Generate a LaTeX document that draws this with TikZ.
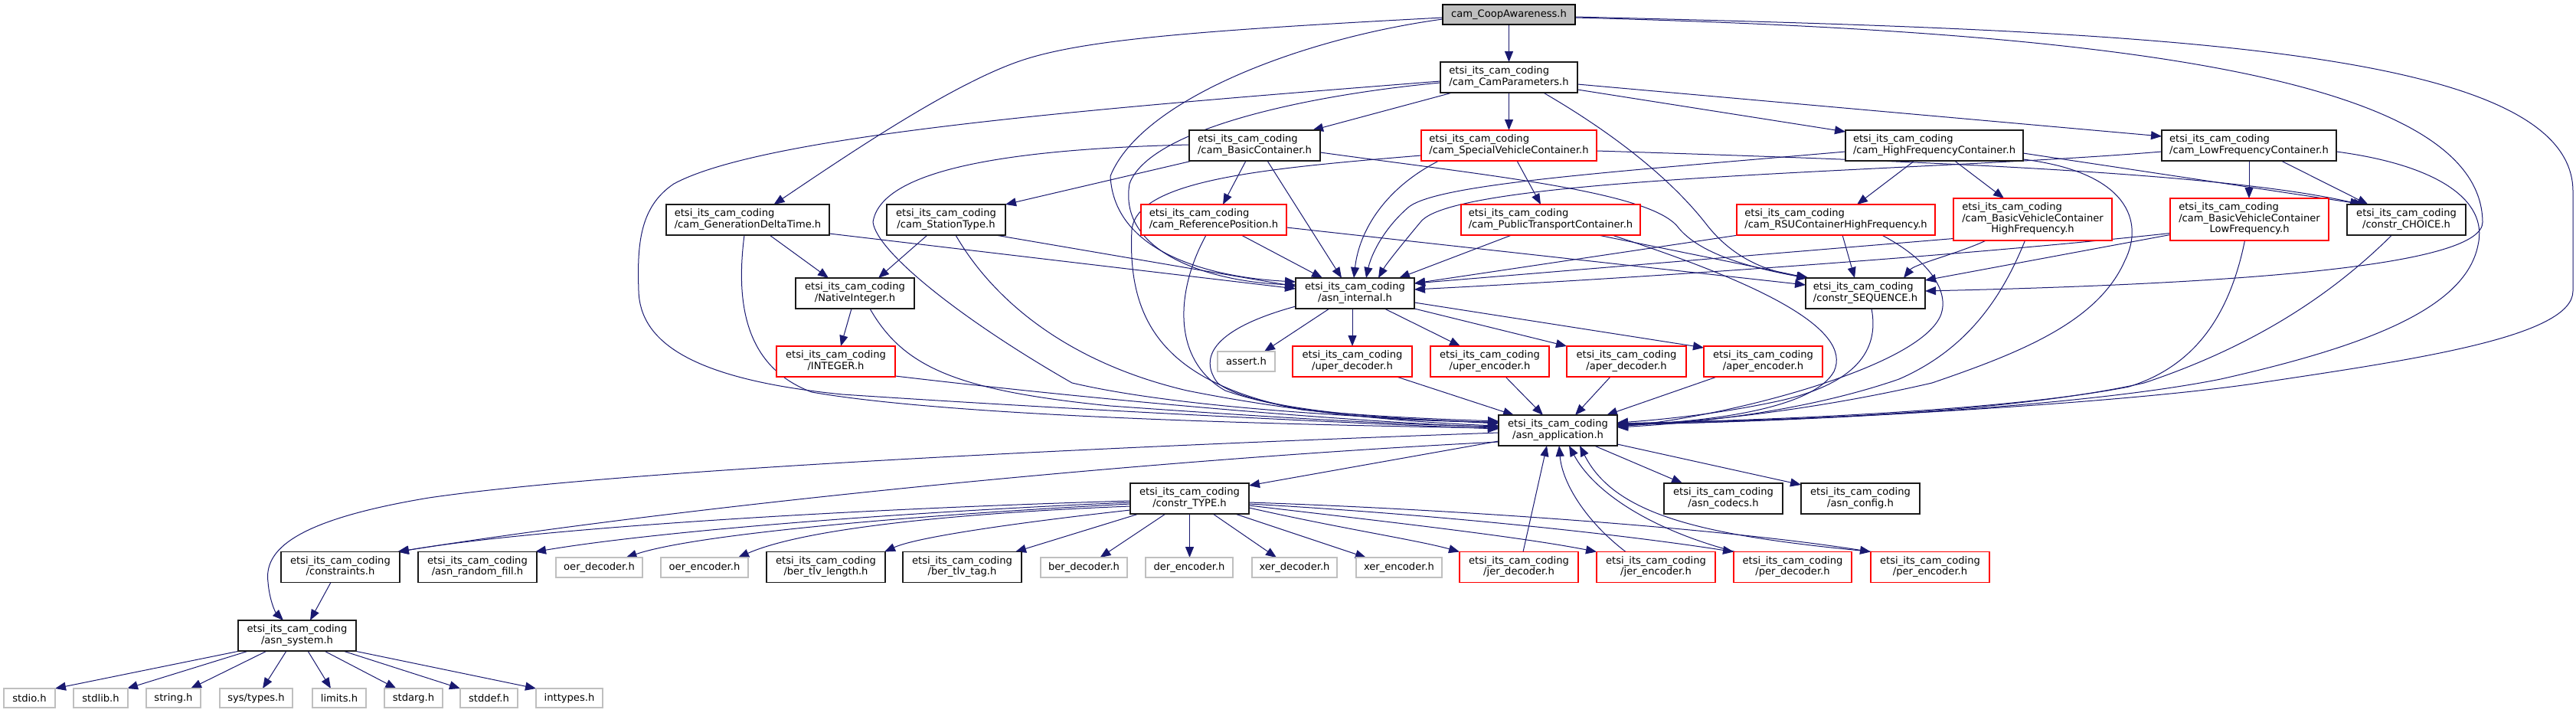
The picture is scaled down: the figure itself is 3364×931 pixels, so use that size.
\documentclass[tikz,border=0pt]{standalone}
\usepackage{fontspec}
\setmainfont{DejaVu Sans}
\usetikzlibrary{arrows.meta}
\pgfdeclarelayer{bg}
\pgfsetlayers{bg,main}
\definecolor{edgec}{HTML}{191970}
\definecolor{boxc}{HTML}{1A1A1A}
\definecolor{greyc}{HTML}{BFBFBF}
\definecolor{redc}{HTML}{FF0000}
\newcommand\ec{etsi\_its\_cam\_coding}
\newcommand\twol[1]{\begin{tabular}{@{}l@{}}\ec\\\multicolumn{1}{@{}c@{}}{#1}\end{tabular}}
\newcommand\thrl[2]{\begin{tabular}{@{}l@{}}\ec\\#1\\\multicolumn{1}{@{}c@{}}{#2}\end{tabular}}
\newcommand\mknode[7]{\node[#2, minimum width=#5pt, minimum height=#6pt] (#1) at (#3,#4) {#7};}
\tikzset{
 nb/.style={rectangle, inner sep=0pt, outer sep=0pt, fill=white, line width=1.1pt, font=\fontsize{13.1pt}{14.5pt}\selectfont, text=black},
 fb/.style={nb, draw=boxc},
 rb/.style={nb, draw=redc},
 gb/.style={nb, draw=greyc},
 tb/.style={nb, draw=black, fill=greyc},
 edge/.style={draw=edgec, line width=1pt, -{Triangle[length=14pt,width=11pt]}},
}
\begin{document}
\begin{tikzpicture}[x=1pt, y=-1pt]
\useasboundingbox (0,0) rectangle (3364,931);
% ---------- nodes ----------
\mknode{root}{tb}{1970.5}{19}{173}{26}{cam\_CoopAwareness.h}
\mknode{camp}{fb}{1970.5}{101}{179}{40}{\twol{/cam\_CamParameters.h}}
\mknode{basc}{fb}{1638.5}{190}{171}{40}{\twol{/cam\_BasicContainer.h}}
\mknode{svc}{rb}{1970.5}{190}{229}{40}{\twol{/cam\_SpecialVehicleContainer.h}}
\mknode{hfc}{fb}{2526}{190}{232}{40}{\twol{/cam\_HighFrequencyContainer.h}}
\mknode{lfc}{fb}{2937}{190}{228}{40}{\twol{/cam\_LowFrequencyContainer.h}}
\mknode{gdt}{fb}{976.5}{287}{213}{40}{\twol{/cam\_GenerationDeltaTime.h}}
\mknode{stt}{fb}{1235.5}{287}{155}{40}{\twol{/cam\_StationType.h}}
\mknode{refp}{rb}{1585}{287}{190}{40}{\twol{/cam\_ReferencePosition.h}}
\mknode{ptc}{rb}{2025}{287}{234}{40}{\twol{/cam\_PublicTransportContainer.h}}
\mknode{rsu}{rb}{2397.5}{287}{259}{40}{\twol{/cam\_RSUContainerHighFrequency.h}}
\mknode{bvchf}{rb}{2654.5}{286.5}{207}{55}{\thrl{/cam\_BasicVehicleContainer}{HighFrequency.h}}
\mknode{bvclf}{rb}{2937.5}{286.5}{207}{55}{\thrl{/cam\_BasicVehicleContainer}{LowFrequency.h}}
\mknode{choice}{fb}{3142.5}{287}{155}{40}{\twol{/constr\_CHOICE.h}}
\mknode{natint}{fb}{1116.5}{383}{155}{40}{\twol{/NativeInteger.h}}
\mknode{asnint}{fb}{1769.5}{383}{155}{40}{\twol{/asn\_internal.h}}
\mknode{seq}{fb}{2436}{383}{156}{40}{\twol{/constr\_SEQUENCE.h}}
\mknode{integer}{rb}{1091.5}{472}{155}{40}{\twol{/INTEGER.h}}
\mknode{assert}{gb}{1627.5}{472}{75}{26}{assert.h}
\mknode{uperd}{rb}{1766}{472}{156}{40}{\twol{/uper\_decoder.h}}
\mknode{upere}{rb}{1945.5}{472}{155}{40}{\twol{/uper\_encoder.h}}
\mknode{aperd}{rb}{2124}{472}{156}{40}{\twol{/aper\_decoder.h}}
\mknode{apere}{rb}{2302.5}{472}{155}{40}{\twol{/aper\_encoder.h}}
\mknode{asnapp}{fb}{2034.5}{562}{155}{40}{\twol{/asn\_application.h}}
\mknode{ctype}{fb}{1553.5}{651}{155}{40}{\twol{/constr\_TYPE.h}}
\mknode{codecs}{fb}{2250.5}{651}{155}{40}{\twol{/asn\_codecs.h}}
\mknode{config}{fb}{2429.5}{651}{155}{40}{\twol{/asn\_config.h}}
\mknode{constraints}{fb}{444.5}{740.5}{155}{40}{\twol{/constraints.h}}
\mknode{randfill}{fb}{623.5}{740.5}{155}{40}{\twol{/asn\_random\_fill.h}}
\mknode{oerd}{gb}{782.5}{741}{113}{26}{oer\_decoder.h}
\mknode{oere}{gb}{920}{741}{114}{26}{oer\_encoder.h}
\mknode{bertl}{fb}{1078.5}{740.5}{155}{40}{\twol{/ber\_tlv\_length.h}}
\mknode{bertag}{fb}{1256.5}{740.5}{155}{40}{\twol{/ber\_tlv\_tag.h}}
\mknode{berd}{gb}{1415.5}{741}{113}{26}{ber\_decoder.h}
\mknode{dere}{gb}{1553}{741}{114}{26}{der\_encoder.h}
\mknode{xerd}{gb}{1690.5}{741}{111}{26}{xer\_decoder.h}
\mknode{xere}{gb}{1827}{741}{112}{26}{xer\_encoder.h}
\mknode{jerd}{rb}{1983.5}{740.5}{155}{40}{\twol{/jer\_decoder.h}}
\mknode{jere}{rb}{2162.5}{740.5}{155}{40}{\twol{/jer\_encoder.h}}
\mknode{perd}{rb}{2341}{740.5}{154}{40}{\twol{/per\_decoder.h}}
\mknode{pere}{rb}{2520.5}{740.5}{155}{40}{\twol{/per\_encoder.h}}
\mknode{asnsys}{fb}{388}{830}{154}{40}{\twol{/asn\_system.h}}
\mknode{stdio}{gb}{38.5}{911.5}{67}{25}{stdio.h}
\mknode{stdlib}{gb}{131.5}{911.5}{71}{25}{stdlib.h}
\mknode{string}{gb}{226.5}{911.5}{71}{25}{string.h}
\mknode{systypes}{gb}{334.5}{911.5}{95}{25}{sys/types.h}
\mknode{limits}{gb}{443}{911.5}{70}{25}{limits.h}
\mknode{stdarg}{gb}{540}{911.5}{76}{25}{stdarg.h}
\mknode{stddef}{gb}{638.5}{911.5}{75}{25}{stddef.h}
\mknode{inttypes}{gb}{743.5}{911.5}{87}{25}{inttypes.h}
% ---------- edges ----------
\begin{pgfonlayer}{bg}
% root
\draw[edge] (root.south) -- (camp.north);
\draw[edge] ([yshift=-4]root.west) .. controls (1560,40) and (1420,52) .. (1340,77) .. controls (1250,105) and (1110,200) .. ([xshift=34]gdt.north);
\draw[edge] ([yshift=-6]root.west) .. controls (1700,50) and (1490,130) .. (1450,230) .. controls (1455,330) and (1580,362) .. ([yshift=15]asnint.west);
\draw[edge] ([yshift=-3]root.east) .. controls (2800,40) and (3360,60) .. (3360,250) -- (3360,380) .. controls (3360,440) and (3150,470) .. (2950,500) .. controls (2750,530) and (2300,552) .. ([yshift=8]asnapp.east);
\draw[edge] ([yshift=-4]root.east) .. controls (2700,40) and (3240,90) .. (3242,290) .. controls (3242,345) and (2950,370) .. ([yshift=3]seq.east);
% CamParameters
\draw[edge] ([xshift=-74]camp.south) -- ([xshift=75.5]basc.north);
\draw[edge] (camp.south) -- (svc.north);
\draw[edge] ([yshift=-16]camp.east) -- ([yshift=-2]hfc.north west);
\draw[edge] ([yshift=-9]camp.east) -- ([yshift=12]lfc.west);
\draw[edge] ([yshift=-7]camp.west) .. controls (1700,125) and (1500,170) .. (1475,240) .. controls (1460,330) and (1580,368) .. ([yshift=11]asnint.west);
\draw[edge] ([yshift=-5]camp.west) .. controls (1450,140) and (1000,175) .. (880,240) .. controls (835,270) and (832,320) .. (834,380) .. controls (836,445) and (900,495) .. (1100,515) .. controls (1400,535) and (1750,552) .. ([yshift=2]asnapp.west);
\draw[edge] ([xshift=45]camp.south) .. controls (2100,170) and (2180,230) .. (2230,295) .. controls (2270,345) and (2320,356) .. ([xshift=4]seq.north west);
% BasicContainer
\draw[edge] ([xshift=4]basc.south west) -- (stt.north east);
\draw[edge] ([xshift=-11.5]basc.south) -- ([xshift=12]refp.north);
\draw[edge] ([xshift=16.5]basc.south) -- ([xshift=-17.5]asnint.north);
\draw[edge] ([yshift=-9]basc.east) .. controls (1950,230) and (2150,250) .. (2190,295) .. controls (2220,335) and (2300,352) .. ([xshift=2]seq.north west);
\draw[edge] ([yshift=1]basc.west) .. controls (1300,195) and (1150,225) .. (1140,290) .. controls (1145,330) and (1260,420) .. (1400,500) .. controls (1550,535) and (1800,545) .. ([yshift=9]asnapp.west);
% SpecialVehicleContainer
\draw[edge] ([xshift=10.5]svc.south) -- ([xshift=-13]ptc.north);
\draw[edge] ([xshift=-91.5]svc.south) .. controls (1810,245) and (1775,300) .. ([xshift=-1.5]asnint.north);
\draw[edge] ([yshift=-7]svc.east) .. controls (2500,210) and (2900,225) .. ([xshift=-59.5]choice.north);
\draw[edge] ([yshift=-13]svc.west) .. controls (1650,220) and (1485,235) .. (1478,300) .. controls (1472,420) and (1520,500) .. (1700,535) .. controls (1800,545) and (1900,548) .. ([yshift=12]asnapp.west);
% GenerationDeltaTime
\draw[edge] ([xshift=28.5]gdt.south) -- ([xshift=-34.5]natint.north);
\draw[edge] ([yshift=-18]gdt.east) -- ([yshift=6]asnint.west);
\draw[edge] ([xshift=-4.5]gdt.south) .. controls (960,400) and (975,480) .. (1060,512) .. controls (1250,545) and (1700,555) .. ([yshift=3]asnapp.west);
% StationType
\draw[edge] ([xshift=-24.5]stt.south) -- ([xshift=30.5]natint.north);
\draw[edge] ([xshift=64.5]stt.south) -- ([yshift=9]asnint.west);
\draw[edge] ([xshift=12.5]stt.south) .. controls (1290,380) and (1380,470) .. (1550,510) .. controls (1700,540) and (1850,552) .. ([yshift=6]asnapp.west);
% NativeInteger, INTEGER
\draw[edge] ([xshift=-4.5]natint.south) -- ([xshift=6.5]integer.north);
\draw[edge] ([xshift=19.5]natint.south) .. controls (1180,480) and (1250,510) .. (1450,530) .. controls (1700,548) and (1850,555) .. ([yshift=5]asnapp.west);
\draw[edge] ([yshift=-19]integer.east) .. controls (1500,530) and (1800,552) .. ([yshift=4]asnapp.west);
% ReferencePosition
\draw[edge] ([xshift=36]refp.south) -- ([xshift=-42.5]asnint.north);
\draw[edge] ([yshift=-10]refp.east) -- ([yshift=11]seq.west);
\draw[edge] ([xshift=-10]refp.south) .. controls (1535,380) and (1530,470) .. (1600,510) .. controls (1700,545) and (1850,550) .. ([yshift=11]asnapp.west);
% PublicTransportContainer
\draw[edge] ([xshift=-51]ptc.south) -- ([xshift=57.5]asnint.north);
\draw[edge] ([xshift=62]ptc.south) .. controls (2200,330) and (2300,350) .. ([xshift=3]seq.north west);
\draw[edge] ([xshift=80]ptc.south) .. controls (2300,370) and (2420,430) .. (2395,485) .. controls (2370,530) and (2250,550) .. ([yshift=7]asnapp.east);
% HighFrequencyContainer
\draw[edge] ([xshift=26.5]hfc.south) -- ([xshift=-37.5]bvchf.north);
\draw[edge] ([xshift=-26]hfc.south) -- ([xshift=27.5]rsu.north);
\draw[edge] ([yshift=-8]hfc.west) .. controls (2100,225) and (1880,240) .. (1840,270) .. controls (1805,300) and (1790,335) .. ([xshift=14.5]asnint.north);
\draw[edge] ([yshift=-10]hfc.east) -- ([xshift=-55]choice.north);
\draw[edge] ([yshift=-18]hfc.east) .. controls (2780,225) and (2800,290) .. (2775,340) .. controls (2740,420) and (2640,460) .. (2523,500) .. controls (2350,540) and (2200,552) .. ([yshift=6]asnapp.east);
% LowFrequencyContainer
\draw[edge] (lfc.south) -- (lfc.south |- bvclf.north);
\draw[edge] ([xshift=42]lfc.south) -- ([xshift=-50]choice.north);
\draw[edge] ([yshift=-8]lfc.west) .. controls (2500,225) and (1900,230) .. (1855,290) .. controls (1830,320) and (1810,345) .. ([xshift=30.5]asnint.north);
\draw[edge] ([yshift=-8]lfc.east) .. controls (3180,215) and (3250,260) .. (3236,320) .. controls (3220,400) and (3100,450) .. (2900,495) .. controls (2700,535) and (2300,552) .. ([yshift=8]asnapp.east);
% CHOICE
\draw[edge] ([xshift=-19]choice.south) .. controls (3050,380) and (2950,450) .. (2800,500) .. controls (2600,545) and (2250,550) .. ([yshift=9]asnapp.east);
% RSU
\draw[edge] ([xshift=2]rsu.south west) -- ([yshift=13]asnint.east);
\draw[edge] ([xshift=8.5]rsu.south) -- ([xshift=-14]seq.north);
\draw[edge] ([xshift=60]rsu.south) .. controls (2520,340) and (2545,380) .. (2535,410) .. controls (2510,480) and (2250,545) .. ([yshift=5]asnapp.east);
% BasicVehicleContainerHighFrequency
\draw[edge] ([yshift=-25]bvchf.west) -- ([yshift=13]asnint.east);
\draw[edge] ([xshift=-61]bvchf.south) .. controls (2560,330) and (2500,345) .. ([xshift=50]seq.north);
\draw[edge] ([xshift=-10]bvchf.south) .. controls (2610,400) and (2560,460) .. (2480,495) .. controls (2350,540) and (2200,553) .. ([yshift=4]asnapp.east);
% BasicVehicleContainerLowFrequency
\draw[edge] ([yshift=-18]bvclf.west) .. controls (2600,330) and (2200,360) .. ([yshift=5]asnint.east);
\draw[edge] ([yshift=-20]bvclf.west) -- ([yshift=17]seq.east);
\draw[edge] ([xshift=-6]bvclf.south) .. controls (2910,420) and (2860,480) .. (2780,505) .. controls (2600,540) and (2250,550) .. ([yshift=9]asnapp.east);
% constr_SEQUENCE
\draw[edge] ([xshift=8]seq.south) .. controls (2455,460) and (2420,500) .. (2330,522) .. controls (2250,540) and (2170,548) .. ([yshift=10]asnapp.east);
% asn_internal
\draw[edge] ([xshift=-3.5]asnint.south) -- (uperd.north);
\draw[edge] ([xshift=38.5]asnint.south) -- ([xshift=-38.5]upere.north);
\draw[edge] (asnint.south east) -- (aperd.north west);
\draw[edge] ([yshift=-12]asnint.east) -- ([yshift=-2]apere.north west);
\draw[edge] ([xshift=-33.5]asnint.south) -- ([xshift=23.5]assert.north);
\draw[edge] ([yshift=-17]asnint.west) .. controls (1600,425) and (1560,460) .. (1590,500) .. controls (1640,540) and (1850,548) .. ([yshift=10]asnapp.west);
% per/aper
\draw[edge] ([xshift=58]uperd.south) -- ([xshift=-57.5]asnapp.north);
\draw[edge] ([xshift=20.5]upere.south) -- ([xshift=-19.5]asnapp.north);
\draw[edge] ([xshift=-21]aperd.south) -- ([xshift=22.5]asnapp.north);
\draw[edge] ([xshift=-60.5]apere.south) -- ([xshift=63.5]asnapp.north);
% asn_application
\draw[edge] ([yshift=-3]asnapp.west) .. controls (1400,585) and (800,615) .. (560,650) .. controls (380,680) and (345,720) .. (350,760) .. controls (352,785) and (360,800) .. ([xshift=-18]asnsys.north);
\draw[edge] ([yshift=-15]asnapp.west) .. controls (1500,600) and (900,660) .. ([xshift=-3]constraints.north east);
\draw[edge] ([yshift=-14]asnapp.west) -- ([yshift=17]ctype.east);
\draw[edge] ([xshift=47.5]asnapp.south) -- ([xshift=-53.5]codecs.north);
\draw[edge] ([yshift=-18]asnapp.east) -- ([yshift=-2]config.north west);
% jer/per back to asn_application
\draw[edge] ([xshift=5.5]jerd.north) -- ([xshift=-14.5]asnapp.south);
\draw[edge] ([xshift=-39.5]jere.north) .. controls (2070,680) and (2040,630) .. ([xshift=1.5]asnapp.south);
\draw[edge] ([xshift=-75]perd.north) .. controls (2150,690) and (2080,640) .. ([xshift=14.5]asnapp.south);
\draw[edge] ([xshift=-75]pere.north) .. controls (2230,700) and (2110,675) .. ([xshift=28.5]asnapp.south);
% constr_TYPE
\draw[edge] ([yshift=-3]ctype.west) .. controls (1100,665) and (700,690) .. ([xshift=-2]constraints.north east);
\draw[edge] ([yshift=-5]ctype.west) .. controls (1150,670) and (850,695) .. ([xshift=-2]randfill.north east);
\draw[edge] ([yshift=-7]ctype.west) .. controls (1150,675) and (900,700) .. ([xshift=35]oerd.north);
\draw[edge] ([yshift=-10]ctype.west) .. controls (1250,670) and (1050,690) .. ([xshift=44]oere.north);
\draw[edge] ([yshift=-15]ctype.west) .. controls (1350,680) and (1200,700) .. ([xshift=-1]bertl.north east);
\draw[edge] ([xshift=-66.5]ctype.south) -- ([xshift=69.5]bertag.north);
\draw[edge] ([xshift=-31.5]ctype.south) -- ([xshift=21]berd.north);
\draw[edge] (ctype.south) -- (ctype.south |- dere.north);
\draw[edge] ([xshift=30.5]ctype.south) -- ([xshift=-23.5]xerd.north);
\draw[edge] ([xshift=59.5]ctype.south) -- ([xshift=-43]xere.north);
\draw[edge] ([yshift=-12]ctype.east) .. controls (1750,690) and (1850,705) .. (jerd.north west);
\draw[edge] ([yshift=-9]ctype.east) .. controls (1800,680) and (1980,700) .. (jere.north west);
\draw[edge] ([yshift=-7]ctype.east) .. controls (1850,670) and (2100,695) .. (perd.north west);
\draw[edge] ([yshift=-5]ctype.east) .. controls (1900,665) and (2250,690) .. (pere.north west);
% constraints, asn_system
\draw[edge] ([xshift=-12.5]constraints.south) -- ([xshift=17]asnsys.north);
\draw[edge] ([xshift=2]asnsys.south west) -- (stdio.north east);
\draw[edge] ([xshift=-63.5]asnsys.south) -- ([xshift=-1]stdlib.north east);
\draw[edge] ([xshift=-39.5]asnsys.south) -- ([xshift=22.5]string.north);
\draw[edge] ([xshift=-14]asnsys.south) -- ([xshift=8.5]systypes.north);
\draw[edge] ([xshift=14]asnsys.south) -- ([xshift=-11]limits.north);
\draw[edge] ([xshift=35.5]asnsys.south) -- ([xshift=-22.5]stdarg.north);
\draw[edge] ([xshift=60]asnsys.south) -- (stddef.north west);
\draw[edge] ([xshift=-2]asnsys.south east) -- (inttypes.north west);
\end{pgfonlayer}
\end{tikzpicture}
\end{document}
